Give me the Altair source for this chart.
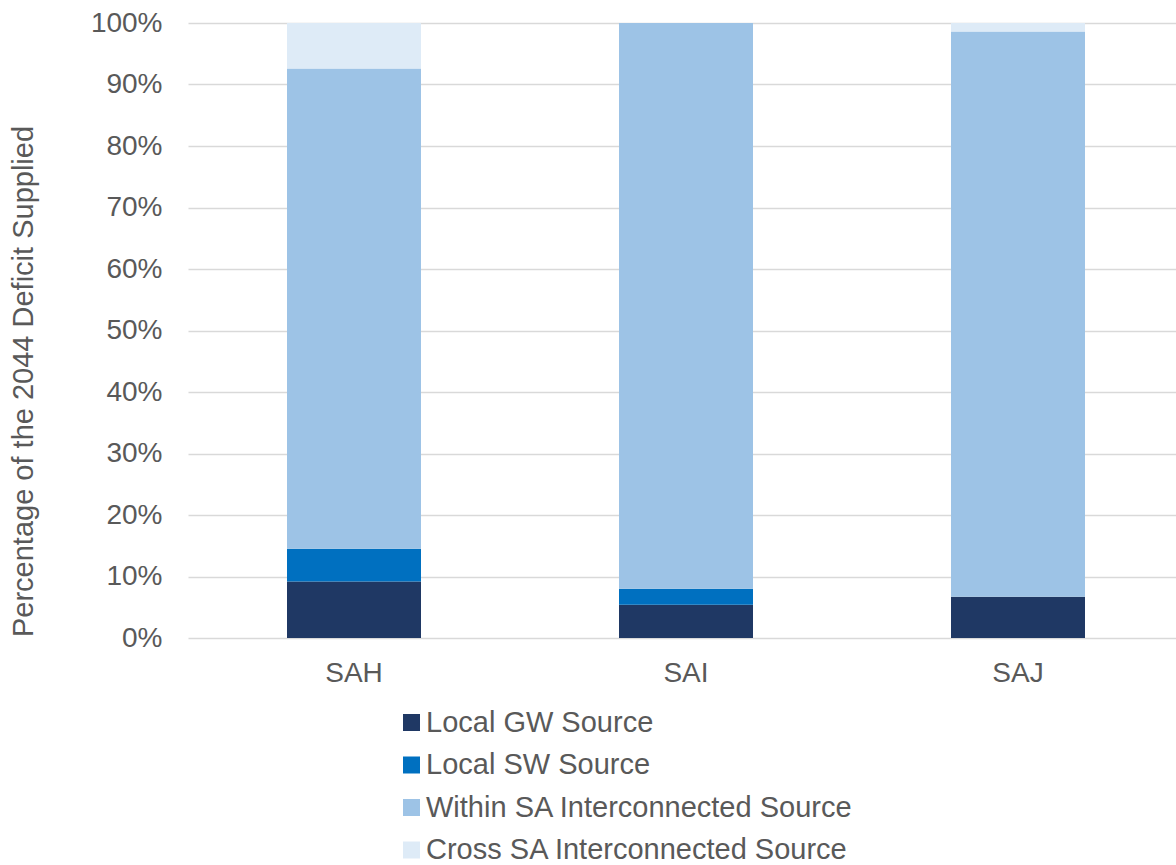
import altair as alt
import pandas as pd

categories = ["SAH", "SAI", "SAJ"]
sources = ["Local GW Source", "Local SW Source",
           "Within SA Interconnected Source", "Cross SA Interconnected Source"]
local_gw = [9.2, 5.4, 6.7]
local_sw = [5.3, 2.6, 0.0]
within_sa = [78.1, 92.0, 91.9]
cross_sa = [7.4, 0.0, 1.4]
colors = ["#1F3864", "#0070C0", "#9DC3E6", "#DEEBF7"]

rows = []
for series_idx, (name, vals) in enumerate(zip(sources, [local_gw, local_sw, within_sa, cross_sa])):
    for cat, v in zip(categories, vals):
        rows.append({"cat": cat, "source": name, "value": v / 100.0, "idx": series_idx})
df = pd.DataFrame(rows)

FONT = "Liberation Sans"
GREY = "#595959"

chart = alt.Chart(df).mark_bar(size=134).encode(
    x=alt.X("cat:N", sort=categories,
            scale=alt.Scale(paddingInner=0, paddingOuter=0),
            axis=alt.Axis(title=None, labelAngle=0, ticks=False, domain=False,
                          grid=False,
                          labelFont=FONT, labelFontSize=28, labelColor=GREY,
                          labelPadding=21)),
    y=alt.Y("value:Q", stack="zero",
            scale=alt.Scale(domain=[0, 1], nice=False),
            axis=alt.Axis(title="Percentage of the 2044 Deficit Supplied",
                          format=".0%", values=[i / 10 for i in range(11)],
                          ticks=False, domain=False,
                          labelFont=FONT, labelFontSize=28, labelColor=GREY,
                          labelPadding=26,
                          gridColor="#D9D9D9", gridWidth=1.5,
                          titleFont=FONT, titleFontSize=29, titleColor=GREY,
                          titleFontWeight="normal",
                          titleX=-165, titleY=358, titleAngle=270,
                          titleAlign="center", titleBaseline="middle")),
    color=alt.Color("source:N", sort=sources,
                    scale=alt.Scale(domain=sources, range=colors),
                    legend=alt.Legend(title=None, orient="none",
                                      legendX=209, legendY=685,
                                      symbolType="square", symbolSize=289,
                                      symbolStrokeWidth=0,
                                      labelFont=FONT, labelFontSize=29,
                                      labelColor=GREY, labelOffset=0,
                                      rowPadding=12.5, labelLimit=700)),
    order=alt.Order("idx:Q", sort="ascending"),
).properties(
    width=996, height=615,
    background="white",
    autosize=alt.AutoSizeParams(type="none"),
    padding={"left": 188, "top": 23, "right": -8, "bottom": 227},
).configure_view(strokeWidth=0, stroke="transparent")

chart.save("out.html", embed_options={"renderer": "svg", "actions": False})
